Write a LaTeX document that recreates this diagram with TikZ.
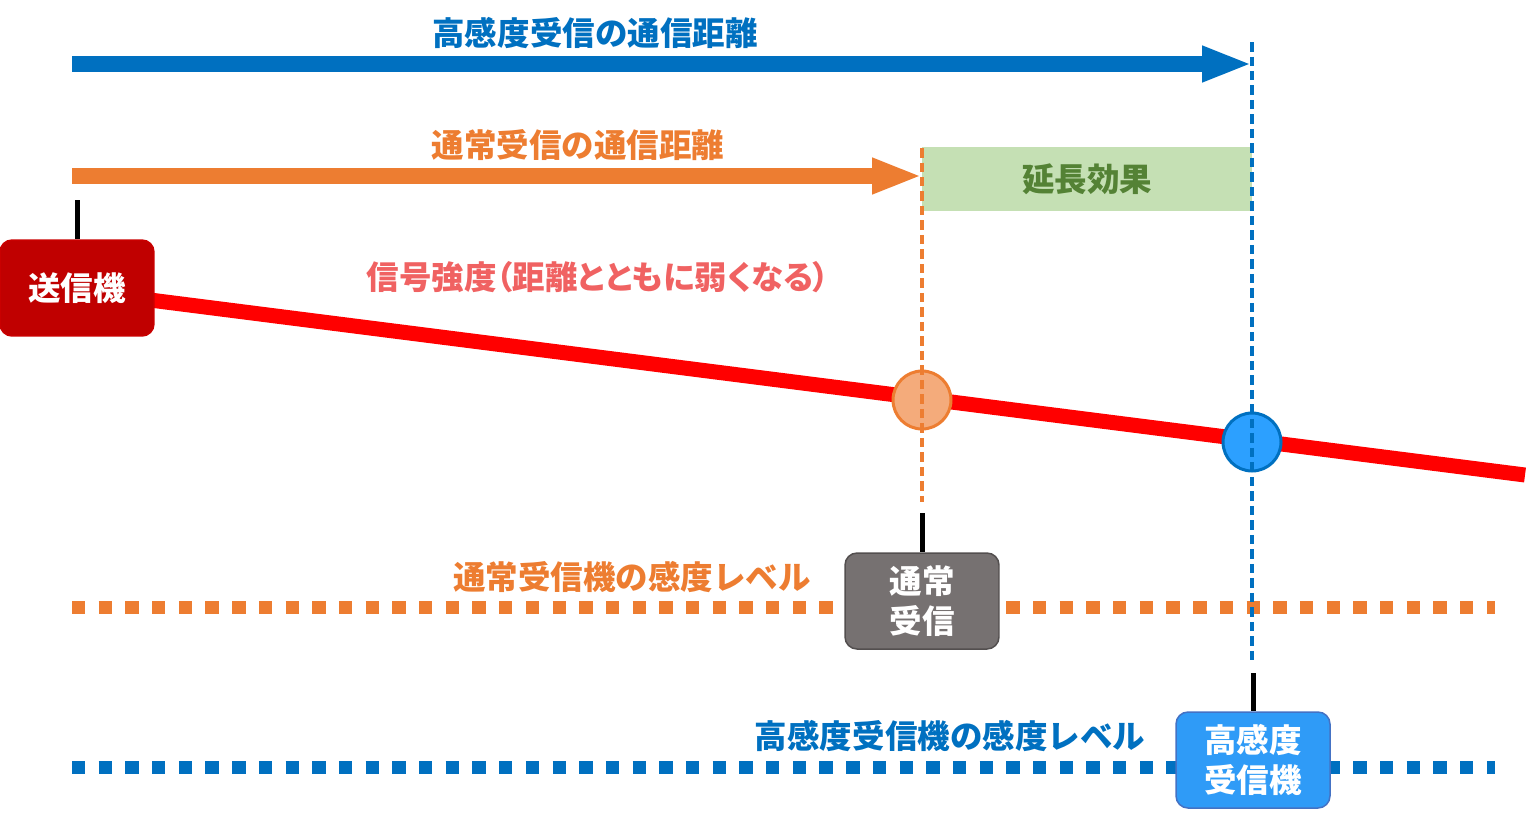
\documentclass[tikz,border=0pt]{standalone}
\usepackage{fontspec}
\setmainfont{Noto Sans CJK JP}
\usepackage{xcolor}
\usepackage{tikz}
\usetikzlibrary{arrows.meta,positioning,calc}
\definecolor{hiblue}{HTML}{0070C0}
\definecolor{noorange}{HTML}{ED7D31}
\definecolor{sigred}{HTML}{FF0000}
\definecolor{sigtxt}{HTML}{F06262}
\definecolor{txred}{HTML}{C00000}
\definecolor{gainfill}{HTML}{C5E0B4}
\definecolor{gaintxt}{HTML}{548235}
\definecolor{rxgray}{HTML}{767171}
\definecolor{rxblue}{HTML}{2F9BF7}
\definecolor{rxedge}{HTML}{4472C4}
\definecolor{hitorange}{HTML}{F4AB7B}
\definecolor{hitblue}{HTML}{2CA0FF}
\tikzset{
  dev/.style={rectangle, draw, rounded corners=0.24cm, minimum width=3.08cm, minimum height=1.92cm, align=center, text=white, line width=0.03cm},
  lvl/.style={line width=0.26cm, dash pattern=on 0.267cm off 0.267cm},
  dist/.style={line width=0.32cm, -{Triangle[length=1cm, width=0.66cm]}},
  reach/.style={line width=0.09cm, dash pattern=on 0.19cm off 0.1cm},
  stem/.style={line width=0.1cm, black},
  hit/.style={circle, draw, line width=0.06cm, minimum size=1.16cm, inner sep=0pt}
}

\begin{document}
\begin{tikzpicture}[x=0.02cm, y=-0.02cm, font=\fontsize{18.5}{22.7}\selectfont\bfseries]
\useasboundingbox (0,0) rectangle (1534,822);
\coordinate (hs) at (72,64);
\coordinate (he) at (1252,64);
\coordinate (ns) at (72,176);
\coordinate (ne) at (922,176);
\coordinate (lns) at (72,607);
\coordinate (lne) at (1495,607);
\coordinate (lhs) at (72,767);
\coordinate (lhe) at (1495,767);
\coordinate (sigs) at (150,300);
\coordinate (sige) at (1525,475);
\coordinate (ntop) at (922,148);
\coordinate (nlow) at (922,502);
\coordinate (htop) at (1252,42);
\coordinate (hlow) at (1252,662);
\coordinate (txtop) at (77,200);
\coordinate (rxntop) at (922,513);
\coordinate (rxhtop) at (1253,673);
\draw[lvl, noorange] (lns) -- (lne);
\draw[lvl, hiblue] (lhs) -- (lhe);
\node[text=hiblue] (hilbl) at (595,33) {高感度受信の通信距離};
\node[text=noorange] (nolbl) at (578,145) {通常受信の通信距離};
\node[text=sigtxt] (siglbl) at (598,277) {\addfontfeatures{RawFeature=+palt}信号強度（距離とともに弱くなる）};
\node[text=noorange] (lvnlbl) at (632,577) {通常受信機の感度レベル};
\node[text=hiblue] (lvhlbl) at (950,736) {高感度受信機の感度レベル};
\draw[dist, hiblue] (hs) -- (he);
\draw[dist, noorange] (ns) -- (ne);
\node[fill=gainfill, minimum width=6.6cm, minimum height=1.28cm, inner sep=0pt, text=gaintxt] (gain) at (1087,179) {延長効果};
\draw[line width=0.3cm, sigred] (sigs) -- (sige);
\node[hit, fill=hitorange, draw=noorange] (hitn) at (922,400) {};
\node[hit, fill=hitblue, draw=hiblue] (hith) at (1252,442) {};
\draw[reach, noorange] (ntop) -- (nlow);
\draw[reach, hiblue] (htop) -- (hlow);
\node[dev, fill=txred, draw=txred!85!red] (tx) at (77,288) {送信機};
\node[dev, fill=rxgray, draw=rxgray!70!black] (rxn) at (922,601) {通常\\受信};
\node[dev, fill=rxblue, draw=rxedge] (rxh) at (1253,760) {高感度\\受信機};
\draw[stem] (txtop) -- (tx.north);
\draw[stem] (rxntop) -- (rxn.north);
\draw[stem] (rxhtop) -- (rxh.north);
\end{tikzpicture}
\end{document}
